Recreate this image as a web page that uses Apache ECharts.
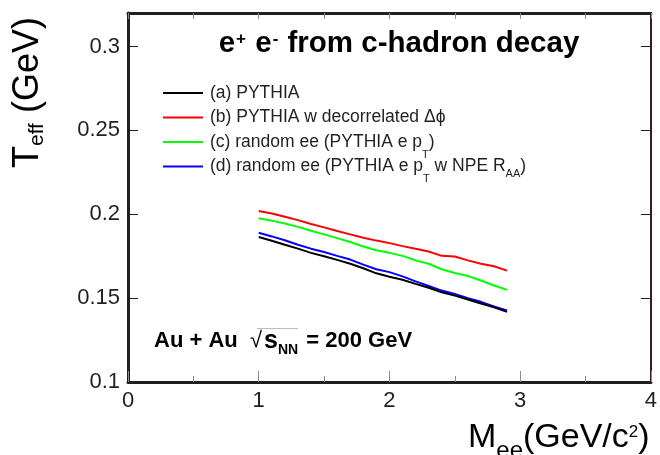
<!DOCTYPE html>
<html>
<head>
<meta charset="utf-8">
<script src="https://cdn.jsdelivr.net/npm/echarts@6/dist/echarts.min.js"></script>
<style>html,body{margin:0;padding:0;background:#fff;overflow:hidden;}#c{width:660px;height:455px;}</style>
</head>
<body>
<div id="c"></div>
<script>
// ---- data ----
var massValues = [1.0,1.1,1.2,1.3,1.4,1.5,1.6,1.7,1.8,1.9,2.0,2.1,2.2,2.3,2.4,2.5,2.6,2.7,2.8,2.9];
var pythia      = [0.1865,0.1842,0.1818,0.1795,0.1770,0.1750,0.1728,0.1705,0.1678,0.1648,0.1628,0.1610,0.1585,0.1562,0.1535,0.1515,0.1492,0.1468,0.1445,0.1418];
var decorrelated= [0.2020,0.2005,0.1985,0.1965,0.1942,0.1922,0.1900,0.1880,0.1860,0.1843,0.1828,0.1810,0.1795,0.1778,0.1752,0.1748,0.1725,0.1705,0.1690,0.1664];
var randomEE    = [0.1976,0.1962,0.1945,0.1925,0.1902,0.1880,0.1858,0.1835,0.1808,0.1785,0.1770,0.1752,0.1725,0.1705,0.1672,0.1650,0.1632,0.1605,0.1575,0.1549];
var randomEEraa = [0.1890,0.1868,0.1845,0.1818,0.1795,0.1775,0.1752,0.1730,0.1700,0.1672,0.1655,0.1630,0.1600,0.1572,0.1545,0.1525,0.1500,0.1478,0.1450,0.1426];
var seriesNames = ['(a) PYTHIA','(b) PYTHIA w decorrelated \u0394\u03d5','(c) random ee (PYTHIA e pT)','(d) random ee (PYTHIA e pT w NPE RAA)'];
var seriesColors = ['#000000','#ff0000','#00ff00','#0000ff'];
var xTicks = {min:0, max:4, interval:1};
var yTicks = {min:0.1, max:0.32, interval:0.05};

function pairs(ys){ return massValues.map(function(x,i){ return [x, ys[i]]; }); }
var allData = [pythia, decorrelated, randomEE, randomEEraa];

var FONT = 'Liberation Sans, Arial, Helvetica, sans-serif';
var INK = '#231f20';

var chart = echarts.init(document.getElementById('c'), null, {renderer:'canvas'});

var legendFormats = {};
legendFormats[seriesNames[0]] = '{t|(a) PYTHIA}';
legendFormats[seriesNames[1]] = '{t|(b) PYTHIA w decorrelated \u0394\u03d5}';
legendFormats[seriesNames[2]] = '{t|(c) random ee (PYTHIA e p}{s|T}{t|)}';
legendFormats[seriesNames[3]] = '{t|(d) random ee (PYTHIA e p}{s|T}{t| w NPE R}{s2|AA}{t|)}';

var option = {
  animation: false,
  backgroundColor: '#ffffff',
  grid: {left:128, right:5, top:13, bottom:73, containLabel:false},
  legend: {
    orient:'vertical', left:163, top:73, padding:0,
    icon:'rect', itemWidth:40, itemHeight:2, itemGap:-15.5,
    data: seriesNames,
    formatter: function(n){ return legendFormats[n]; },
    textStyle: {
      color: INK, fontFamily: FONT, fontSize:17.5, padding:[0,0,0,2],
      lineHeight:40, height:40, backgroundColor:'rgba(255,255,255,0)',
      rich: {
        t: {fontSize:17.5, fontFamily:FONT, color:INK, lineHeight:40, verticalAlign:'middle'},
        s: {fontSize:11, fontFamily:FONT, color:INK, lineHeight:1, padding:[27,0,0,0], verticalAlign:'top'},
        s2:{fontSize:11, fontFamily:FONT, color:INK, lineHeight:1, padding:[21.5,0,0,0], verticalAlign:'top'}
      }
    }
  },
  xAxis: [{
    type:'value', min:xTicks.min, max:xTicks.max, interval:xTicks.interval, position:'bottom',
    axisLine:{show:true, onZero:false, lineStyle:{color:INK, width:3}},
    axisTick:{show:true, inside:true, length:11, lineStyle:{color:'#8a8a8a', width:1}},
    minorTick:{show:true, splitNumber:2, length:6, lineStyle:{color:'#8a8a8a', width:1}},
    axisLabel:{show:true, fontFamily:FONT, fontSize:22, color:INK, margin:8},
    splitLine:{show:false}
  },{
    type:'value', min:xTicks.min, max:xTicks.max, interval:0.5, position:'top',
    axisLine:{show:true, onZero:false, lineStyle:{color:INK, width:3}},
    axisTick:{show:true, inside:true, length:6, lineStyle:{color:'#8a8a8a', width:1}},
    axisLabel:{show:false}, splitLine:{show:false}
  }],
  yAxis: [{
    type:'value', min:yTicks.min, max:yTicks.max, interval:yTicks.interval, position:'left',
    axisLine:{show:true, onZero:false, lineStyle:{color:INK, width:3}},
    axisTick:{show:true, inside:true, length:10, lineStyle:{color:INK, width:1}},
    axisLabel:{show:true, fontFamily:FONT, fontSize:22, color:INK, margin:8, showMaxLabel:false},
    splitLine:{show:false}
  },{
    type:'value', min:yTicks.min, max:yTicks.max, interval:yTicks.interval, position:'right',
    axisLine:{show:true, onZero:false, lineStyle:{color:'#3a1c1c', width:2}},
    axisTick:{show:true, inside:true, length:10, lineStyle:{color:INK, width:1}},
    axisLabel:{show:false}, splitLine:{show:false}
  }],
  series: seriesNames.map(function(n,i){
    return {
      name:n, type:'line', xAxisIndex:0, yAxisIndex:0,
      data: pairs(allData[i]), showSymbol:false, symbol:'none',
      lineStyle:{color:seriesColors[i], width:2}, itemStyle:{color:seriesColors[i]},
      z: 3 + (i===0?1:0)
    };
  }),
  graphic: [
    { type:'text', x:399, y:44, z:10,
      style:{ text:'{b|e}{p|+}{b| e}{p|-}{b| from c-hadron decay}',
        textAlign:'center', textVerticalAlign:'middle',
        rich:{ b:{fontFamily:FONT, fontWeight:'bold', fontSize:29.5, color:INK, lineHeight:34, verticalAlign:'middle'},
               p:{fontFamily:FONT, fontWeight:'bold', fontSize:17, color:INK, lineHeight:1, padding:[3.5,1,0,1], verticalAlign:'top'} } } },
    { type:'text', x:154, y:341, z:10,
      style:{ text:'{b|Au + Au  }{r|\u221a}{q|s}{s|NN}{b| = 200 GeV}',
        textAlign:'left', textVerticalAlign:'middle',
        rich:{ b:{fontFamily:FONT, fontWeight:'bold', fontSize:22, color:INK, lineHeight:26, verticalAlign:'middle'},
               q:{fontFamily:FONT, fontWeight:'bold', fontSize:25, color:INK, lineHeight:26, verticalAlign:'middle', padding:[0,0,0,2]},
               r:{fontFamily:FONT, fontWeight:'normal', fontSize:22, color:INK, lineHeight:26, verticalAlign:'middle'},
               s:{fontFamily:FONT, fontWeight:'bold', fontSize:14, color:INK, lineHeight:1, padding:[15,2,0,0], verticalAlign:'top'} } } },
    { type:'line', z:10, shape:{x1:257, y1:328.5, x2:298, y2:328.5}, style:{stroke:'#bdbdbd', lineWidth:1} },
    { type:'text', x:28, y:168, rotation:Math.PI/2, z:10,
      style:{ text:'{b|T}{s|eff}{b| (GeV)}', textAlign:'left', textVerticalAlign:'middle',
        rich:{ b:{fontFamily:FONT, fontSize:36, color:INK, lineHeight:40, verticalAlign:'middle'},
               s:{fontFamily:FONT, fontSize:21, color:INK, lineHeight:1, padding:[19,0,0,0], verticalAlign:'top'} } } },
    { type:'text', x:468, y:438, z:10,
      style:{ text:'{b|M}{s|ee}{b|(GeV/c}{p|2}{b|)}', textAlign:'left', textVerticalAlign:'middle',
        rich:{ b:{fontFamily:FONT, fontSize:34, color:INK, lineHeight:40, verticalAlign:'middle'},
               s:{fontFamily:FONT, fontSize:24, color:INK, lineHeight:1, padding:[21.5,0,0,0], verticalAlign:'top'},
               p:{fontFamily:FONT, fontSize:17, color:INK, lineHeight:1, padding:[6,0,0,0], verticalAlign:'top'} } } }
  ]
};
chart.setOption(option);
</script>
</body>
</html>
